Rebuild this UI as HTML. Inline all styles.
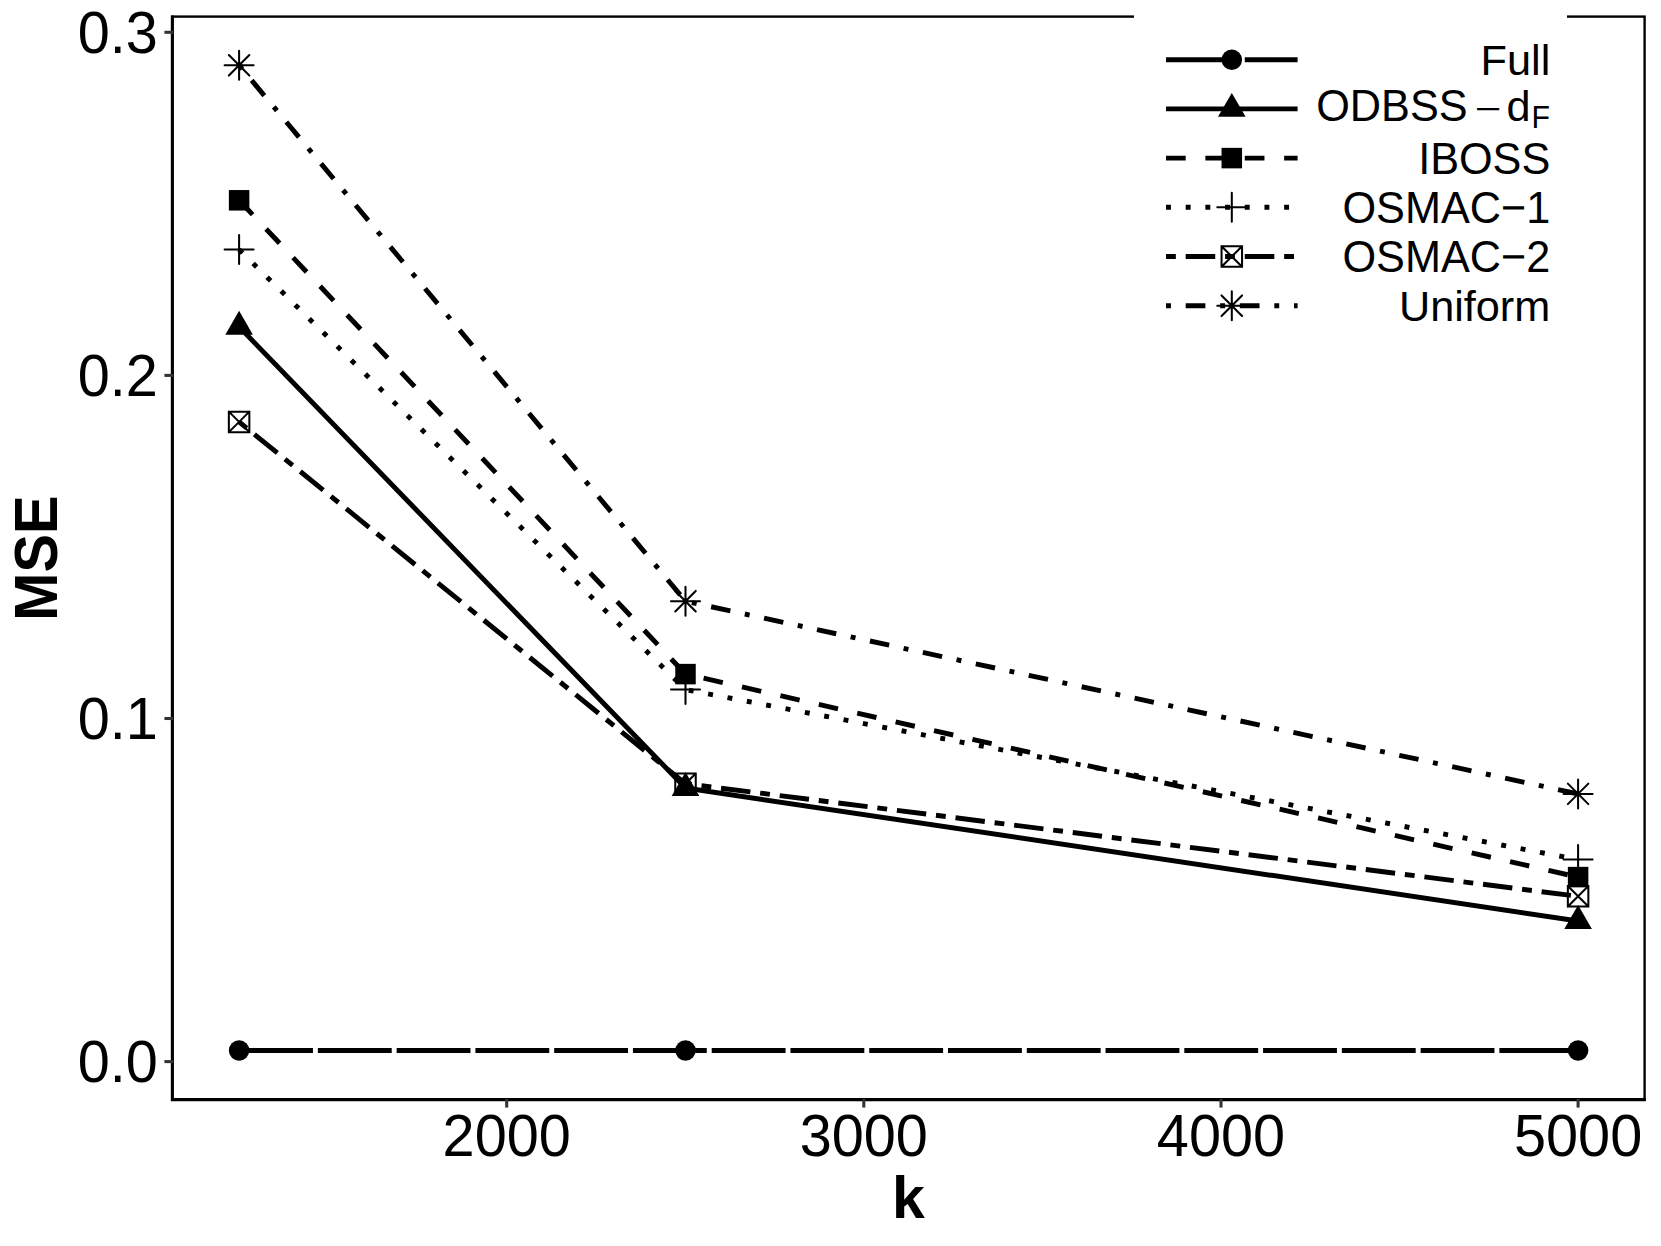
<!DOCTYPE html>
<html lang="en"><head><meta charset="utf-8"><title>MSE vs k</title>
<style>
html,body{margin:0;padding:0;background:#fff}
svg{display:block}
text{font-family:"Liberation Sans",Arial,Helvetica,sans-serif;fill:#000}
.ax{font-size:57.67px}
.ttl{font-size:57.9px;font-weight:bold}
.lg{font-size:43.25px}
.ln{fill:none;stroke:#000;stroke-width:4.923;stroke-linecap:butt;stroke-linejoin:round}
.mk{fill:none;stroke:#000;stroke-width:2.04;stroke-linecap:round;stroke-linejoin:miter}
.tk{stroke:#333;stroke-width:3.07;fill:none}
</style></head><body>
<svg width="1661" height="1246" viewBox="0 0 1661 1246">
<rect width="1661" height="1246" fill="#fff"/>
<rect x="172.35" y="16.60" width="1472.25" height="1083.05" fill="none" stroke="#000" stroke-width="2.4"/>
<path d="M172.35 15.40V1099.65H1645.80" fill="none" stroke="#000" stroke-width="3.07" stroke-linecap="butt" stroke-linejoin="miter"/>
<path class="tk" d="M164.42 32.30H173.15"/>
<path class="tk" d="M164.42 375.40H173.15"/>
<path class="tk" d="M164.42 718.50H173.15"/>
<path class="tk" d="M164.42 1061.60H173.15"/>
<path class="tk" d="M506.70 1098.85V1107.58"/>
<path class="tk" d="M863.80 1098.85V1107.58"/>
<path class="tk" d="M1221.00 1098.85V1107.58"/>
<path class="tk" d="M1578.10 1098.85V1107.58"/>
<text class="ax" transform="translate(157.9 53.10) scale(1 1.025)" text-anchor="end">0.3</text>
<text class="ax" transform="translate(157.9 396.20) scale(1 1.025)" text-anchor="end">0.2</text>
<text class="ax" transform="translate(157.9 739.30) scale(1 1.025)" text-anchor="end">0.1</text>
<text class="ax" transform="translate(157.9 1082.40) scale(1 1.025)" text-anchor="end">0.0</text>
<text class="ax" transform="translate(506.70 1155.8) scale(1 1.025)" text-anchor="middle">2000</text>
<text class="ax" transform="translate(863.80 1155.8) scale(1 1.025)" text-anchor="middle">3000</text>
<text class="ax" transform="translate(1221.00 1155.8) scale(1 1.025)" text-anchor="middle">4000</text>
<text class="ax" transform="translate(1578.10 1155.8) scale(1 1.025)" text-anchor="middle">5000</text>
<text class="ttl" x="908.5" y="1217.8" text-anchor="middle" style="font-size:59px">k</text>
<text class="ttl" transform="translate(57.1 558) rotate(-90) scale(1 1.045)" text-anchor="middle">MSE</text>
<polyline class="ln" points="239.10,1050.50 685.50,1050.50 1578.10,1050.50" stroke-dasharray="73.845 4.923"/>
<polyline class="ln" points="239.10,326.80 685.50,788.00 1578.10,921.00"/>
<polyline class="ln" points="239.10,200.30 685.50,674.10 1578.10,877.10" stroke-dasharray="19.692 19.692"/>
<polyline class="ln" points="239.10,249.60 685.50,689.60 1578.10,859.60" stroke-dasharray="4.923 14.769"/>
<polyline class="ln" points="239.10,421.90 685.50,783.70 1578.10,896.30" stroke-dasharray="9.846 9.846 29.538 9.846"/>
<polyline class="ln" points="239.10,65.30 685.50,601.20 1578.10,793.90" stroke-dasharray="4.923 14.769 19.692 14.769"/>
<circle cx="239.10" cy="1050.50" r="10.252" fill="#000"/>
<circle cx="685.50" cy="1050.50" r="10.252" fill="#000"/>
<circle cx="1578.10" cy="1050.50" r="10.252" fill="#000"/>
<polygon points="239.10,310.86 252.91,334.77 225.29,334.77" fill="#000"/>
<polygon points="685.50,772.06 699.31,795.97 671.69,795.97" fill="#000"/>
<polygon points="1578.10,905.06 1591.91,928.97 1564.29,928.97" fill="#000"/>
<rect x="228.85" y="190.05" width="20.504" height="20.504" fill="#000"/>
<rect x="675.25" y="663.85" width="20.504" height="20.504" fill="#000"/>
<rect x="1567.85" y="866.85" width="20.504" height="20.504" fill="#000"/>
<path d="M224.60 249.60H253.60M239.10 235.10V264.10" class="mk"/>
<path d="M671.00 689.60H700.00M685.50 675.10V704.10" class="mk"/>
<path d="M1563.60 859.60H1592.60M1578.10 845.10V874.10" class="mk"/>
<path d="M228.85 411.65h20.504v20.504h-20.504zM228.85 411.65L249.35 432.15M228.85 432.15L249.35 411.65" class="mk"/>
<path d="M675.25 773.45h20.504v20.504h-20.504zM675.25 773.45L695.75 793.95M675.25 793.95L695.75 773.45" class="mk"/>
<path d="M1567.85 886.05h20.504v20.504h-20.504zM1567.85 886.05L1588.35 906.55M1567.85 906.55L1588.35 886.05" class="mk"/>
<path d="M228.85 55.05L249.35 75.55M228.85 75.55L249.35 55.05M224.60 65.30H253.60M239.10 50.80V79.80" class="mk"/>
<path d="M675.25 590.95L695.75 611.45M675.25 611.45L695.75 590.95M671.00 601.20H700.00M685.50 586.70V615.70" class="mk"/>
<path d="M1567.85 783.65L1588.35 804.15M1567.85 804.15L1588.35 783.65M1563.60 793.90H1592.60M1578.10 779.40V808.40" class="mk"/>
<rect x="1134" y="8" width="433" height="335" fill="#fff"/>
<path class="ln" d="M1166.00 59.70H1297.60" stroke-dasharray="73.845 4.923"/>
<circle cx="1231.80" cy="59.70" r="10.252" fill="#000"/>
<text class="lg" transform="translate(1550.3 75.20) scale(1 1.000)" text-anchor="end">Full</text>
<path class="ln" d="M1166.00 108.90H1297.60"/>
<polygon points="1231.80,92.96 1245.61,116.87 1217.99,116.87" fill="#000"/>
<path class="ln" d="M1166.00 158.10H1297.60" stroke-dasharray="19.692 19.692"/>
<rect x="1221.55" y="147.85" width="20.504" height="20.504" fill="#000"/>
<text class="lg" transform="translate(1550.3 173.60) scale(1 1.045)" text-anchor="end">IBOSS</text>
<path class="ln" d="M1166.00 207.30H1297.60" stroke-dasharray="4.923 14.769"/>
<path d="M1217.30 207.30H1246.30M1231.80 192.80V221.80" class="mk"/>
<text class="lg" transform="translate(1550.3 222.80) scale(1 1.045)" text-anchor="end">OSMAC−1</text>
<path class="ln" d="M1166.00 256.50H1297.60" stroke-dasharray="9.846 9.846 29.538 9.846"/>
<path d="M1221.55 246.25h20.504v20.504h-20.504zM1221.55 246.25L1242.05 266.75M1221.55 266.75L1242.05 246.25" class="mk"/>
<text class="lg" transform="translate(1550.3 272.00) scale(1 1.045)" text-anchor="end">OSMAC−2</text>
<path class="ln" d="M1166.00 305.70H1297.60" stroke-dasharray="4.923 14.769 19.692 14.769"/>
<path d="M1221.55 295.45L1242.05 315.95M1221.55 315.95L1242.05 295.45M1217.30 305.70H1246.30M1231.80 291.20V320.20" class="mk"/>
<text class="lg" transform="translate(1550.3 321.20) scale(1 1.000)" text-anchor="end">Uniform</text>
<text class="lg" transform="translate(1316.2 120.50) scale(1 1.045)">ODBSS</text>
<text class="lg" transform="translate(1487.75 120.20) scale(1 0.72)" text-anchor="middle" style="font-size:45.5px">−</text>
<text class="lg" x="1506.6" y="120.50">d</text>
<text class="lg" transform="translate(1531.5 128.40) scale(1 1.05)" style="font-size:30.3px">F</text>
</svg></body></html>
